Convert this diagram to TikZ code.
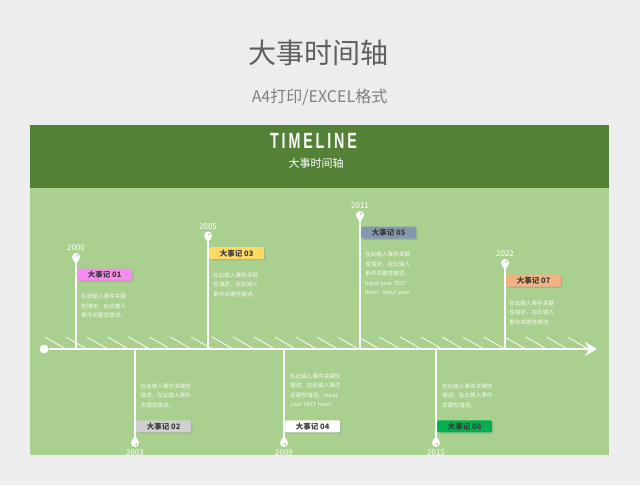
\documentclass[tikz,border=0pt]{standalone}
\usepackage{fontspec}
\setmainfont{Noto Sans CJK SC}
\newfontfamily\bannerfont[LetterSpace=20]{Liberation Sans}
\usetikzlibrary{arrows.meta, positioning, calc, shadows}
\definecolor{PageGray}{RGB}{237, 237, 237}
\definecolor{TitleGray}{RGB}{95, 95, 95}
\definecolor{SubGray}{RGB}{128, 128, 128}
\definecolor{BandGreen}{RGB}{83, 129, 53}
\definecolor{PanelGreen}{RGB}{169, 208, 142}
\definecolor{TagText}{RGB}{58, 58, 58}
\definecolor{PinkTag}{RGB}{247, 139, 240}
\definecolor{YellowTag}{RGB}{255, 217, 102}
\definecolor{BlueTag}{RGB}{132, 151, 176}
\definecolor{OrangeTag}{RGB}{244, 177, 131}
\definecolor{GrayTag}{RGB}{207, 207, 207}
\definecolor{GreenTag}{RGB}{0, 176, 80}

\begin{document}
\begin{tikzpicture}[
    x=1pt, y=-1pt,
    every node/.style={align=center, inner sep=0pt},
    pin/.style={circle, fill=white, minimum size=8pt, inner sep=0pt},
    pintop/.pic={\fill[white] (-3.3,2) -- (0,7.5) -- (3.3,2) -- cycle;
                 \node[pin] (-c) {};
                 \fill[PanelGreen] (1.2,-1.2) circle (1.1pt);},
    pinbottom/.pic={\fill[white] (-3.3,-2) -- (0,-7.5) -- (3.3,-2) -- cycle;
                    \node[pin] (-c) {};
                    \fill[PanelGreen] (1.2,1.2) circle (1.1pt);},
    yearlabel/.style={font=\fontsize{8}{9}\selectfont, text=white},
    tagbox/.style={rectangle, fill=#1, rounded corners=2pt, minimum width=55pt, minimum height=12pt, font=\fontsize{7.5}{8}\selectfont\bfseries, text=TagText, drop shadow={shadow xshift=1.2pt, shadow yshift=-1.2pt, opacity=0.3}},
    desc/.style={align=left, font=\fontsize{5.6}{9.5}\selectfont, text=white!88!PanelGreen},
    stem/.style={draw=white, line width=1.4pt},
    hatch/.style={draw=white, line width=0.8pt},
    axis/.style={draw=white, line width=1.4pt, -{Stealth[length=12pt, width=14pt, inset=4pt]}}
  ]
    \useasboundingbox (0,0) rectangle (640,485);
    \fill[PageGray] (0,0) rectangle (640,485);

    % Page heading
    \node[font=\fontsize{28}{30}\selectfont, text=TitleGray] (title) at (318.5,53) {大事时间轴};
    \node[font=\fontsize{16}{18}\selectfont, text=SubGray] (subtitle) at (319.5,97) {A4打印/EXCEL格式};

    % Panel and banner
    \fill[PanelGreen] (30,125) rectangle (609,455);
    \fill[BandGreen] (30,125) rectangle (609,188);
    \node[text=white] (banner) at (313.5,141) {\scalebox{0.65}[1]{\bannerfont\bfseries\fontsize{22}{24}\selectfont TIMELINE}};
    \node[font=\fontsize{11}{12}\selectfont, text=white] (bannersub) at (316,163) {大事时间轴};

    \begin{scope}
    \clip (30,125) rectangle (609,455);

    % Axis
    \node[circle, fill=white, minimum size=9pt] (start) at (44,349) {};
    \coordinate (end) at (597,349);
    \foreach \i in {0,...,25}
      \draw[hatch] (45+20.9*\i,337) -- ++(20,11.5);

    % Row 1: events above the axis
    \pic (pin2000) at (76,257) {pintop};
    \pic (pin2005) at (208,235.5) {pintop};
    \pic (pin2011) at (360,215) {pintop};
    \pic (pin2022) at (505,263) {pintop};
    \node[yearlabel, above=2pt of pin2000-c] (yr2000) {2000};
    \node[yearlabel, above=2pt of pin2005-c] (yr2005) {2005};
    \node[yearlabel, above=2pt of pin2011-c] (yr2011) {2011};
    \node[yearlabel, above=2pt of pin2022-c] (yr2022) {2022};

    \node[tagbox=PinkTag, below right=8.5pt and -2pt of pin2000-c] (ev01) {大事记 01};
    \node[tagbox=YellowTag, below right=8.5pt and -2pt of pin2005-c] (ev03) {大事记 03};
    \node[tagbox=BlueTag, below right=8.5pt and -2pt of pin2011-c] (ev05) {大事记 05};
    \node[tagbox=OrangeTag, below right=8.5pt and -2pt of pin2022-c] (ev07) {大事记 07};

    \node[desc, below right=13pt and 4pt of ev01.south west] (tx01) {在此输入事件关键\\性描述，在此输入\\事件关键性描述。};
    \node[desc, below right=13pt and 4pt of ev03.south west] (tx03) {在此输入事件关键\\性描述，在此输入\\事件关键性描述。};
    \node[desc, below right=13pt and 4pt of ev05.south west] (tx05) {在此输入事件关键\\性描述，在此输入\\事件关键性描述。\\Input your TEXT\\here！Input your};
    \node[desc, below right=13.5pt and 3pt of ev07.south west] (tx07) {在此输入事件关键\\性描述，在此输入\\事件关键性描述。};

    % Row 2: events below the axis
    \pic (pin2003) at (135,443) {pinbottom};
    \pic (pin2009) at (284,443) {pinbottom};
    \pic (pin2015) at (436,443) {pinbottom};
    \node[yearlabel, below=2pt of pin2003-c] (yr2003) {2003};
    \node[yearlabel, below=2pt of pin2009-c] (yr2009) {2009};
    \node[yearlabel, below=2pt of pin2015-c] (yr2015) {2015};

    \node[tagbox=GrayTag, above right=7.5pt and -2pt of pin2003-c] (ev02) {大事记 02};
    \node[tagbox=white, above right=7.5pt and -2pt of pin2009-c] (ev04) {大事记 04};
    \node[tagbox=GreenTag, above right=7.5pt and -2pt of pin2015-c] (ev06) {大事记 06};

    \node[desc, above right=12pt and 4.5pt of ev02.north west] (tx02) {在此输入事件关键性\\描述，在此输入事件\\关键性描述。};
    \node[desc, above right=12pt and 5pt of ev04.north west] (tx04) {在此输入事件关键性\\描述，在此输入事件\\关键性描述。Input\\your TEXT here！};
    \node[desc, above right=12pt and 5pt of ev06.north west] (tx06) {在此输入事件关键性\\描述，在此输入事件\\关键性描述。};

    % Connections
    \draw[axis] (start) -- (end);
    \draw[stem] (pin2000-c) -- (pin2000-c |- start);
    \draw[stem] (pin2005-c) -- (pin2005-c |- start);
    \draw[stem] (pin2011-c) -- (pin2011-c |- start);
    \draw[stem] (pin2022-c) -- (pin2022-c |- start);
    \draw[stem] (pin2003-c |- start) -- (pin2003-c);
    \draw[stem] (pin2009-c |- start) -- (pin2009-c);
    \draw[stem] (pin2015-c |- start) -- (pin2015-c);
    \end{scope}
  \end{tikzpicture}
\end{document}
